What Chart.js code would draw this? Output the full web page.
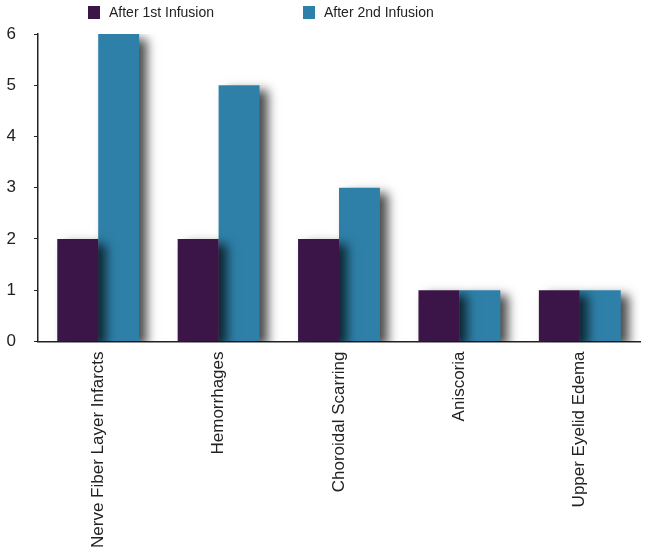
<!DOCTYPE html>
<html>
<head>
<meta charset="utf-8">
<script src="https://cdn.jsdelivr.net/npm/chart.js@4/dist/chart.umd.min.js"></script>
<style>
  html, body { margin: 0; padding: 0; background: #fff; }
  #wrap { width: 649px; height: 551px; }
</style>
</head>
<body>
<div id="wrap"><canvas id="chart"></canvas></div>
<script>
const categories = ['Nerve Fiber Layer Infarcts', 'Hemorrhages', 'Choroidal Scarring', 'Aniscoria', 'Upper Eyelid Edema'];
const firstInfusion = [2, 2, 2, 1, 1];
const secondInfusion = [6, 5, 3, 1, 1];
const yTicks = [0, 1, 2, 3, 4, 5, 6];

// drop shadow behind the bars
const barShadow = {
    id: 'barShadow',
    beforeDatasetDraw(chart) {
        const ctx = chart.ctx;
        ctx.save();
        ctx.shadowColor = 'rgba(0,0,0,0.7)';
        ctx.shadowBlur = 10;
        ctx.shadowOffsetX = 8;
        ctx.shadowOffsetY = 5;
    },
    afterDatasetDraw(chart) {
        chart.ctx.restore();
    }
};

// legend drawn by hand so it can sit where the original one is
const topLegend = {
    id: 'topLegend',
    afterDraw(chart) {
        const ctx = chart.ctx;
        const xs = [88, 303];
        ctx.save();
        ctx.font = '14px "Liberation Sans", Arial, sans-serif';
        ctx.textBaseline = 'middle';
        chart.data.datasets.forEach((ds, i) => {
            ctx.fillStyle = ds.backgroundColor;
            ctx.fillRect(xs[i], 6, 12, 13);
            ctx.fillStyle = '#222';
            ctx.fillText(ds.label, xs[i] + 21, 13);
        });
        ctx.restore();
    }
};

new Chart(document.getElementById('chart'), {
    type: 'bar',
    data: {
        labels: categories,
        datasets: [
            {
                label: 'After 1st Infusion',
                data: firstInfusion,
                backgroundColor: '#3b1547'
            },
            {
                label: 'After 2nd Infusion',
                data: secondInfusion,
                backgroundColor: '#2e80a8'
            }
        ]
    },
    options: {
        responsive: true,
        maintainAspectRatio: false,
        animation: false,
        layout: { padding: { top: 34, right: 9, left: 0, bottom: 1 } },
        datasets: { bar: { categoryPercentage: 0.68, barPercentage: 1 } },
        plugins: {
            legend: { display: false },
            tooltip: { enabled: false }
        },
        scales: {
            x: {
                grid: { display: false },
                border: { color: '#222', width: 1.5 },
                ticks: {
                    color: '#222',
                    minRotation: 90,
                    maxRotation: 90,
                    padding: 2,
                    font: { family: '"Liberation Sans", Arial, sans-serif', size: 17 }
                }
            },
            y: {
                min: 0,
                max: 6,
                afterBuildTicks(scale) {
                    scale.ticks = yTicks.map(v => ({ value: v }));
                },
                afterFit(scale) {
                    scale.width = 38;
                },
                grid: { drawOnChartArea: false, drawTicks: true, tickLength: 4, color: '#222' },
                border: { color: '#222', width: 1.5 },
                ticks: {
                    color: '#222',
                    padding: 18,
                    font: { family: '"Liberation Sans", Arial, sans-serif', size: 17 }
                }
            }
        }
    },
    plugins: [barShadow, topLegend]
});
</script>
</body>
</html>
